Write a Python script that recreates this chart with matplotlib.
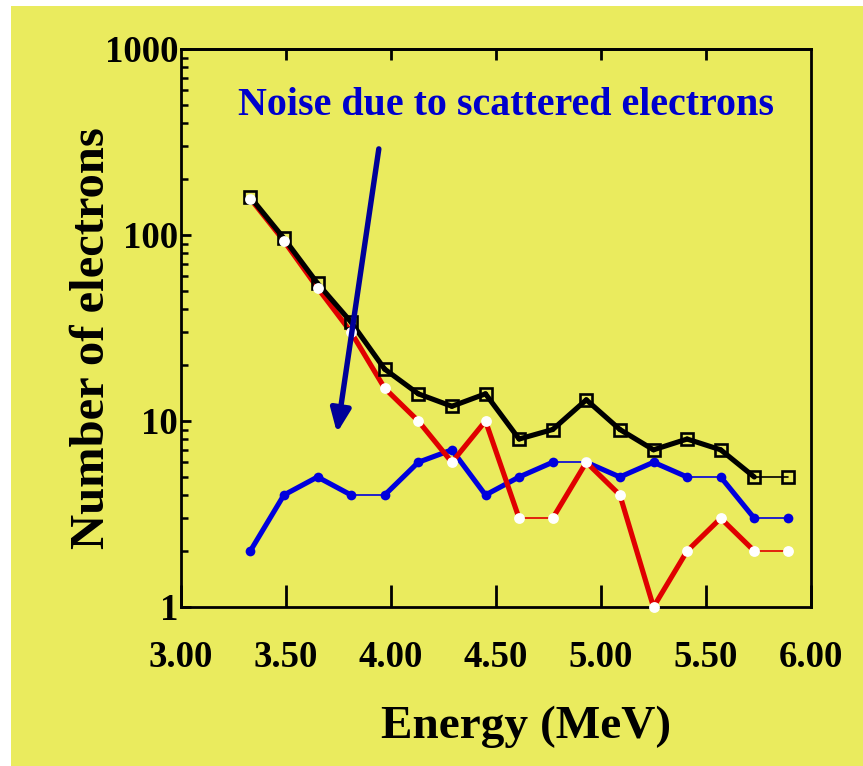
import matplotlib
matplotlib.use("Agg")
import matplotlib.pyplot as plt
from matplotlib.patches import Rectangle
from matplotlib.ticker import FixedLocator, LogLocator, NullFormatter

# energy bins (MeV) and electron counts per bin
energy = [3.33, 3.49, 3.65, 3.81, 3.97, 4.13, 4.29, 4.45, 4.61,
          4.77, 4.93, 5.09, 5.25, 5.41, 5.57, 5.73, 5.89]
total = [160, 96, 55, 34, 19, 14, 12, 14, 8, 9, 13, 9, 7, 8, 7, 5, 5]
signal = [157, 93, 52, 30, 15, 10, 6, 10, 3, 3, 6, 4, 1, 2, 3, 2, 2]
noise = [2, 4, 5, 4, 4, 6, 7, 4, 5, 6, 6, 5, 6, 5, 5, 3, 3]

x_ticks = [3.0, 3.5, 4.0, 4.5, 5.0, 5.5, 6.0]
x_ticklabels = ["3.00", "3.50", "4.00", "4.50", "5.00", "5.50", "6.00"]
y_ticks = [1, 10, 100, 1000]
y_ticklabels = ["1", "10", "100", "1000"]

BG = "#EAEB5E"
RED = "#E00000"
BLUE = "#0000DD"
NAVY = "#000099"
FONT = "Liberation Serif"

W, H = 863, 766
fig = plt.figure(figsize=(W / 100, H / 100), dpi=100, facecolor="white")
fig.patches.append(Rectangle((11 / W, 0), 1 - 11 / W, 1 - 6 / H,
                             transform=fig.transFigure, facecolor=BG,
                             edgecolor="none", zorder=-10))

ax = fig.add_axes([181 / W, 1 - 607 / H, 630 / W, 558 / H])
ax.set_facecolor(BG)
ax.set_yscale("log")
ax.set_xlim(3.0, 6.0)
ax.set_ylim(1, 1000)


def series(y, color, z):
    # flat segments come out thin, sloped ones thick
    for i in range(len(y) - 1):
        lw = 1.2 if y[i] == y[i + 1] else 3.7
        ax.plot(energy[i:i + 2], y[i:i + 2], color=color, lw=lw,
                solid_capstyle="round", zorder=z, clip_on=False)


series(noise, BLUE, 2)
ax.plot(energy, noise, "o", ms=7, color=BLUE, mec="none", zorder=2.5,
        clip_on=False)
series(signal, RED, 3)
series(total, "black", 4)
ax.plot(energy, total, "s", ms=8, mfc="none", mec="black", mew=1.9,
        zorder=4.5, clip_on=False)
ax.plot(energy, signal, "o", ms=7.8, color="white", mec="none", zorder=5,
        clip_on=False)

for s in ax.spines.values():
    s.set_linewidth(2.0)

ax.xaxis.set_major_locator(FixedLocator(x_ticks))
ax.set_xticklabels(x_ticklabels)
ax.yaxis.set_major_locator(FixedLocator(y_ticks))
ax.set_yticklabels(y_ticklabels)
ax.yaxis.set_minor_locator(LogLocator(base=10, subs=range(2, 10)))
ax.yaxis.set_minor_formatter(NullFormatter())

ax.tick_params(axis="x", which="major", direction="in", length=16, width=2,
               top=False, pad=24)
ax.tick_params(axis="y", which="major", direction="in", length=7, width=2,
               right=False, pad=2)
ax.tick_params(axis="y", which="minor", direction="in", length=5, width=1.8,
               right=False)
for lab in ax.get_xticklabels() + ax.get_yticklabels():
    lab.set_fontfamily(FONT)
    lab.set_fontweight("bold")
    lab.set_fontsize(26.5)

# short ticks along the top edge
top = ax.secondary_xaxis("top")
top.xaxis.set_major_locator(FixedLocator(x_ticks[1:-1]))
top.tick_params(direction="in", length=8, width=2, labeltop=False)
top.spines["top"].set_linewidth(2.0)

fig.text(92 / W, 1 - 338 / H, "Number of electrons", rotation=90,
         ha="center", va="center", family=FONT, fontweight="bold",
         fontsize=35)
fig.text(526 / W, 1 - 738 / H, "Energy (MeV)", ha="center", va="baseline",
         family=FONT, fontweight="bold", fontsize=34)
fig.text(238 / W, 1 - 115 / H, "Noise due to scattered electrons",
         ha="left", va="baseline", family=FONT, fontweight="bold",
         fontsize=28.8, color="#0000CC")

ax.annotate("", xy=(0.2476, 0.312), xytext=(0.314, 0.821),
            xycoords="axes fraction", textcoords="axes fraction",
            arrowprops=dict(arrowstyle="-|>,head_length=0.7,head_width=0.3",
                            mutation_scale=20, lw=3.9, color=NAVY,
                            shrinkA=0, shrinkB=0),
            zorder=6)

fig.savefig("out.png", dpi=100, facecolor="white")
